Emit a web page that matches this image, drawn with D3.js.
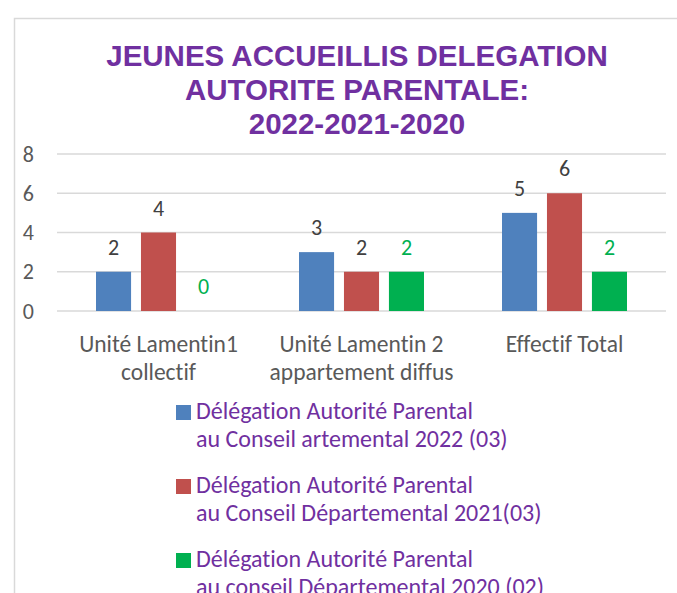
<!DOCTYPE html>
<html>
<head>
<meta charset="utf-8">
<script src="https://cdn.jsdelivr.net/npm/d3@7"></script>
<style>
  html, body { margin: 0; padding: 0; background: #fff; }
  svg { display: block; }
  text { font-variant-ligatures: none; font-feature-settings: "liga" 0; }
</style>
</head>
<body>
<div id="chart"></div>
<script>
const titleLines = ["JEUNES ACCUEILLIS DELEGATION", "AUTORITE PARENTALE:", "2022-2021-2020"];
const categories = ["Unité Lamentin1 collectif", "Unité Lamentin 2 appartement diffus", "Effectif Total"];
const categoryLines = [["Unité Lamentin1", "collectif"], ["Unité Lamentin 2", "appartement diffus"], ["Effectif Total"]];
const seriesNames = ["2022", "2021", "2020"];
const legendLines = [
  ["Délégation Autorité Parental", "au Conseil artemental 2022 (03)"],
  ["Délégation Autorité Parental", "au Conseil Départemental 2021(03)"],
  ["Délégation Autorité Parental", "au conseil Départemental 2020 (02)"]
];
const values2022 = [2, 3, 5];
const values2021 = [4, 2, 6];
const values2020 = [0, 2, 2];
const yTicks = [0, 2, 4, 6, 8];
const colors = ["#4F81BD", "#C0504D", "#00B050"];

const allValues = [values2022, values2021, values2020];
const data = categories.map((c, i) => ({
  category: c,
  values: seriesNames.map((s, j) => ({ series: s, value: allValues[j][i], idx: j }))
}));

const W = 677, H = 593;
const bodyFont = "Carlito, Calibri, Lato, sans-serif";

const svg = d3.select("#chart")
  .append("svg")
  .attr("width", W)
  .attr("height", H)
  .style("background", "#fff");

// cadre du graphique
svg.append("rect")
  .attr("x", 14.5).attr("y", 18.5)
  .attr("width", 720).attr("height", 620)
  .attr("fill", "#fff")
  .attr("stroke", "#d9d9d9")
  .attr("stroke-width", 1.5);

// titre
svg.append("g")
  .selectAll("text")
  .data(titleLines)
  .join("text")
  .attr("x", 357)
  .attr("y", (d, i) => 66 + i * 34)
  .attr("text-anchor", "middle")
  .attr("font-family", "'Liberation Sans', Arial, sans-serif")
  .attr("font-weight", "bold")
  .attr("font-size", 29.5)
  .attr("fill", "#7030A0")
  .text(d => d);

// echelles
const y = d3.scaleLinear().domain([0, 8]).range([311, 154]);
const x0 = d3.scaleBand().domain(categories).range([57, 666]);
const x1 = d3.scaleBand().domain(seriesNames).range([39, 164]).paddingInner(0.22);

// grille
svg.append("g")
  .selectAll("line")
  .data(yTicks)
  .join("line")
  .attr("x1", 57).attr("x2", 666)
  .attr("y1", d => y(d)).attr("y2", d => y(d))
  .attr("stroke", "#d9d9d9")
  .attr("stroke-width", 1.5);

// axe Y
const yAxis = d3.axisLeft(y).tickValues(yTicks).tickSize(0).tickPadding(0);
const gy = svg.append("g")
  .attr("transform", "translate(34,0)")
  .call(yAxis);
gy.select(".domain").remove();
gy.selectAll("text")
  .attr("font-family", bodyFont)
  .attr("font-size", 22)
  .attr("fill", "#595959");

// barres
const groups = svg.append("g")
  .selectAll("g")
  .data(data)
  .join("g")
  .attr("transform", d => `translate(${x0(d.category)},0)`);

groups.selectAll("rect")
  .data(d => d.values)
  .join("rect")
  .attr("x", d => x1(d.series))
  .attr("y", d => y(d.value))
  .attr("width", x1.bandwidth())
  .attr("height", d => y(0) - y(d.value))
  .attr("fill", d => colors[d.idx]);

groups.selectAll("text")
  .data(d => d.values)
  .join("text")
  .attr("x", d => x1(d.series) + x1.bandwidth() / 2)
  .attr("y", d => y(d.value) - 17)
  .attr("text-anchor", "middle")
  .attr("font-family", bodyFont)
  .attr("font-size", 22)
  .attr("fill", d => d.idx === 2 ? "#00B050" : "#404040")
  .text(d => d.value);

// etiquettes des categories
const catG = svg.append("g")
  .selectAll("text")
  .data(categories)
  .join("text")
  .attr("x", d => x0(d) + x0.bandwidth() / 2)
  .attr("y", 352)
  .attr("text-anchor", "middle")
  .attr("font-family", bodyFont)
  .attr("font-size", 23.5)
  .attr("fill", "#595959");

catG.selectAll("tspan")
  .data((d, i) => categoryLines[i])
  .join("tspan")
  .attr("x", function () { return this.parentNode.getAttribute("x"); })
  .attr("dy", (d, i) => i === 0 ? 0 : 28)
  .text(d => d);

// legende
const legend = svg.append("g")
  .selectAll("g")
  .data(legendLines)
  .join("g")
  .attr("transform", (d, i) => `translate(176,${405 + i * 74})`);

legend.append("rect")
  .attr("width", 15).attr("height", 15)
  .attr("fill", (d, i) => colors[i]);

legend.append("text")
  .attr("font-family", bodyFont)
  .attr("font-size", 24)
  .attr("fill", "#7030A0")
  .selectAll("tspan")
  .data(d => d)
  .join("tspan")
  .attr("x", 20)
  .attr("y", (d, i) => 14 + i * 28)
  .text(d => d);
</script>
</body>
</html>
